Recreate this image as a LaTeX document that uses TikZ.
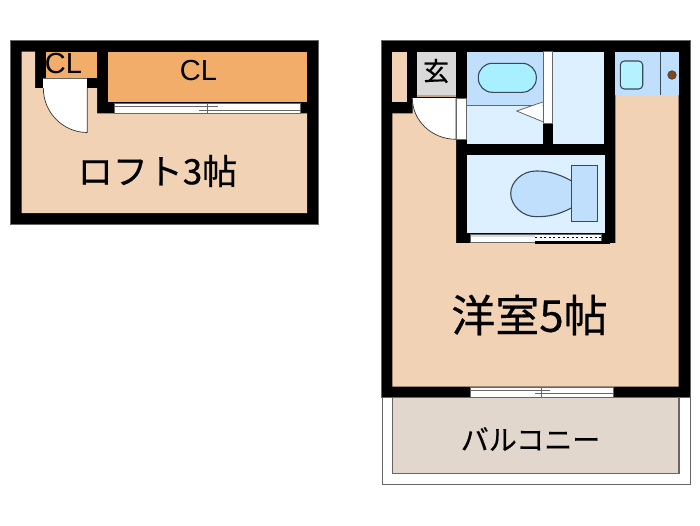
\documentclass[tikz,border=0pt]{standalone}
\usepackage{fontspec}
\newfontfamily\jp[FakeBold=0.5]{Noto Sans CJK JP}
\newfontfamily\lat{Liberation Sans}
\definecolor{peach}{HTML}{F2D2B5}
\definecolor{orangecl}{HTML}{F2AD6B}
\definecolor{bathblue}{HTML}{BFDFFD}
\definecolor{lightblue}{HTML}{DDF0FF}
\definecolor{tubblue}{HTML}{A8F0FF}
\definecolor{genkan}{HTML}{D9D9D9}
\definecolor{balc}{HTML}{E1D7CD}
\definecolor{wallgray}{HTML}{666666}
\definecolor{outline}{HTML}{3A4A55}
\definecolor{knob}{HTML}{8B4510}
\tikzset{
  wall/.style={fill=black,draw=none},
  fixture/.style={draw=outline,line width=1.1pt},
  label/.style={inner sep=0pt,font=\jp},
}
\begin{document}
\begin{tikzpicture}[x=1pt,y=-1pt]
\useasboundingbox (0,0) rectangle (700,525);
\fill[white] (0,0) rectangle (700,525);
%% Loft
\fill[wall] (10.5,40.5) rectangle (318,224);
\draw[wallgray,line width=0.6pt] (10.5,40.5) rectangle (318,224);
\fill[peach] (21.7,51.7) -- (35,51.7) -- (35,88) -- (97,88) -- (97,113.3) -- (307,113.3) -- (307,213) -- (21.7,213) -- cycle;
\fill[orangecl] (45.7,51.7) rectangle (97,77.7);
\fill[orangecl] (107.7,51.7) rectangle (307,102);
% loft door
\fill[white] (43.3,78) rectangle (87.3,88);
\draw[wallgray,line width=0.7pt] (43.3,78) -- (87.3,78) (43.3,88) -- (87.3,88);
\fill[white] (43.3,88) .. controls (43.3,112.5) and (63,132.5) .. (87.3,132.5) -- (87.3,88) -- cycle;
\draw[black!80,line width=0.7pt] (43.3,88) .. controls (43.3,112.5) and (63,132.5) .. (87.3,132.5) -- (87.3,88);
% loft slider
\fill[white] (114,103) rectangle (300.7,113);
\draw[wallgray,line width=0.7pt] (114,103) rectangle (300.7,113);
\draw[wallgray,line width=0.8pt] (114,106) -- (218,106) (199,110) -- (300.7,110);
\draw[wallgray,line width=0.7pt] (207.5,103) -- (207.5,113);
%% Main
\fill[wall] (381.7,40) rectangle (690,397);
\draw[wallgray,line width=0.6pt] (381.7,40) rectangle (690,397);
\fill[peach] (392.3,51.7) rectangle (406.7,102);
\fill[peach] (392.3,113.3) -- (412.5,113.3) -- (412.5,98) -- (456,98) -- (456,243) -- (615.3,243) -- (615.3,95) -- (678.7,95) -- (678.7,386.7) -- (392.3,386.7) -- cycle;
% genkan
\fill[genkan] (417.3,51.7) rectangle (456,95);
\fill[brown!60!genkan] (417.3,95) rectangle (456,97);
% entry door
\fill[white] (412.3,98) .. controls (412.3,120.7) and (431.9,139.3) .. (456,139.3) -- (456,98) -- cycle;
\draw[black!80,line width=0.7pt] (412.3,98) .. controls (412.3,120.7) and (431.9,139.3) .. (456,139.3) -- (456,98);
\fill[white] (456,98) rectangle (466.7,139.3);
\draw[wallgray,line width=0.7pt] (456,98) rectangle (466.7,139.3);
% bath
\fill[bathblue] (466.7,52.3) rectangle (542.7,105);
\fill[lightblue] (466.7,105) rectangle (542.7,144);
\draw[wallgray,line width=0.5pt] (466.7,105) -- (542.7,105);
\draw[fixture,fill=tubblue,rounded corners=14pt] (478.3,63.3) rectangle (536.3,92.3);
\fill[white] (516.7,111) -- (542.7,102) -- (542.7,121.7) -- cycle;
\draw[wallgray,line width=0.8pt] (542.7,102) -- (516.7,111) -- (542.7,121.7);
\fill[white] (543.3,51) rectangle (552.3,123.3);
\draw[wallgray,line width=0.8pt] (543.3,51) rectangle (552.3,123.3);
\fill[lightblue] (553.3,51.7) rectangle (604.3,144);
% kitchen
\fill[bathblue] (615.3,51.7) rectangle (678.7,95);
\draw[outline,line width=0.9pt] (660,51.7) -- (660,95);
\draw[fixture,fill=tubblue!85!white,rounded corners=4pt] (620.3,61) rectangle (642.7,89);
\draw[outline,line width=0.8pt,fill=knob] (672,75) circle[radius=4.2];
% toilet
\fill[lightblue] (466.7,155) rectangle (605,232.7);
\draw[fixture,fill=bathblue] (571.3,180.7) .. controls (555,172) and (545,171) .. (536,171)
  .. controls (522,171) and (510.7,182) .. (510.7,193.5)
  .. controls (510.7,205) and (522,216.7) .. (536,216.7)
  .. controls (548,216.7) and (558,215) .. (571.3,208);
\draw[fixture,fill=bathblue] (571.3,165.7) rectangle (597.7,221.7);
\fill[white] (470,234) rectangle (601.7,242.7);
\fill[genkan] (470,234) rectangle (535,237);
\draw[wallgray,line width=0.6pt] (470,234) rectangle (601.7,242.7);
\draw[black,line width=1.1pt,dash pattern=on 2pt off 2.6pt] (535,237.8) -- (601,237.8);
\fill[wall] (535,240.5) rectangle (610,244);
% window
\fill[white] (470.3,387) rectangle (613,397);
\draw[wallgray,line width=0.7pt] (470.3,387) rectangle (613,397);
\draw[wallgray,line width=0.8pt] (470.3,390) -- (550,390) (535,393.5) -- (613,393.5);
\draw[wallgray,line width=0.7pt] (541.5,387) -- (541.5,397);
%% Balcony
\draw[wallgray,line width=1pt] (382.3,397) -- (382.3,484) -- (690,484) -- (690,397);
\fill[balc] (392.3,397.5) rectangle (679,473.3);
\draw[wallgray,line width=1.1pt] (392.3,397.5) -- (392.3,473.3) -- (679,473.3) -- (679,397.5);
%% Labels
\node[label,font=\lat] (cla) at (63.5,64) {\fontsize{29}{29}\selectfont CL};
\node[label,font=\lat] (clb) at (198.5,71) {\fontsize{29}{29}\selectfont CL};
\node[label] (loft) at (157.5,171) {\fontsize{35}{35}\selectfont ロフト3帖};
\node[label] (gen) at (436,71) {\fontsize{26}{26}\selectfont 玄};
\node[label] (yo) at (529.5,315) {\fontsize{44}{44}\selectfont 洋室5帖};
\node[label] (bal) at (530.5,439) {\fontsize{28}{28}\selectfont バルコニー};
\end{tikzpicture}
\end{document}
